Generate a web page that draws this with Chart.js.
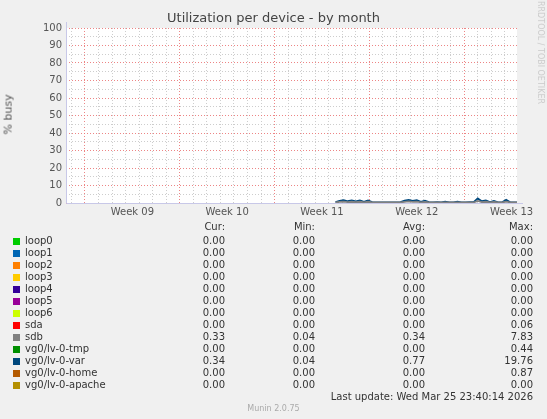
<!DOCTYPE html>
<html><head><meta charset="utf-8">
<script src="https://cdn.jsdelivr.net/npm/chart.js@4"></script>
<style>
body{margin:0;background:#f0f0f0;font-family:"DejaVu Sans",sans-serif;color:#333;width:547px;height:419px;position:relative;overflow:hidden}
#wrap{position:absolute;left:0;top:0;width:547px;height:230px}
.t{position:absolute;white-space:nowrap}
.r{text-align:right}
.sq{position:absolute;width:7px;height:7px}
</style></head><body>
<div id="wrap"><canvas id="c" width="547" height="230"></canvas></div>
<div class="t" style="left:0;width:547px;text-align:center;top:10px;font-size:13px;color:#444">Utilization per device - by month</div>
<div class="t" style="left:-12px;top:108px;font-size:11px;transform:rotate(-90deg);color:#555;font-weight:normal">% busy</div>
<div class="t" style="left:489px;top:48px;font-size:8px;color:#ccc;transform:rotate(90deg)">RRDTOOL / TOBI OETIKER</div>
<div id="leg"></div>
<div class="t" style="left:0;width:547px;text-align:center;top:404px;font-size:8px;color:#aaa">Munin 2.0.75</div>
<script>
const seriesNames=["loop0","loop1","loop2","loop3","loop4","loop5","loop6","sda","sdb","vg0/lv-0-tmp","vg0/lv-0-var","vg0/lv-0-home","vg0/lv-0-apache"];
const seriesColors=["#00CC00","#0066B3","#FF8000","#FFCC00","#330099","#990099","#CCFF00","#FF0000","#808080","#008F00","#00487D","#B35A00","#B38F00"];
const curVals=["0.00","0.00","0.00","0.00","0.00","0.00","0.00","0.00","0.33","0.00","0.34","0.00","0.00"];
const minVals=["0.00","0.00","0.00","0.00","0.00","0.00","0.00","0.00","0.04","0.00","0.04","0.00","0.00"];
const avgVals=["0.00","0.00","0.00","0.00","0.00","0.00","0.00","0.00","0.34","0.00","0.77","0.00","0.00"];
const maxVals=["0.00","0.00","0.00","0.00","0.00","0.00","0.00","0.06","7.83","0.44","19.76","0.87","0.00"];
const weekLabels=["Week 09","Week 10","Week 11","Week 12","Week 13"];
const varDays=[19.9,20.2,20.5,20.8,21.1,21.4,21.7,22.0,22.3,22.6,22.9,23.2,23.5,23.8,24.1,24.4,24.7,25.0,25.3,25.6,25.9,26.2,26.5,26.8,27.1,27.4,27.7,28.0,28.3,28.6,28.9,29.2,29.5,29.8,30.1,30.4,30.7,31.0,31.3,31.6,31.9,32.2,32.5,32.8,33.1,33.3];
const varVals=[0.5,1.2,1.6,1.0,1.5,0.9,1.4,0.6,1.5,0.5,0.4,0.4,0.4,0.4,0.4,0.4,0.5,1.4,1.8,1.2,1.6,0.7,1.3,0.5,0.4,0.5,0.4,0.8,0.4,0.4,0.7,0.4,0.4,0.5,0.5,2.6,1.0,1.4,0.5,1.2,0.4,0.4,1.8,0.4,0.4,0.4];
const sdbVals=[0.3,0.6,0.8,0.5,0.7,0.5,0.7,0.3,0.7,0.3,0.3,0.3,0.3,0.3,0.3,0.3,0.3,0.7,0.9,0.6,0.8,0.4,0.6,0.3,0.3,0.3,0.3,0.4,0.3,0.3,0.4,0.3,0.3,0.3,0.3,1.2,0.5,0.7,0.3,0.6,0.3,0.3,0.8,0.3,0.3,0.3];
const firstMonday=1.4, totalDays=33.3;

let leg=document.getElementById('leg'),h='';
const cols=[[225,"Cur:",curVals],[315,"Min:",minVals],[425,"Avg:",avgVals],[533,"Max:",maxVals]];
cols.forEach(c=>{h+=`<div class="t r" style="right:${547-c[0]}px;top:221px;font-size:10px">${c[1]}</div>`});
seriesNames.forEach((n,i)=>{const y=235+i*12;
h+=`<div class="sq" style="left:13px;top:${y+3}px;background:${seriesColors[i]}"></div><div class="t" style="left:25px;top:${y}px;font-size:10px">${n}</div>`;
cols.forEach(c=>{h+=`<div class="t r" style="right:${547-c[0]}px;top:${y}px;font-size:10px">${c[2][i]}</div>`});});
h+=`<div class="t r" style="right:14px;top:391px;font-size:10px">Last update: Wed Mar 25 23:40:14 2026</div>`;
leg.innerHTML=h;

const xt=[];
for(let d=0;d<=33;d++){const v=firstMonday-1+d; if(v>0&&v<totalDays) xt.push({value:v,kind:((d-1)%7===0)?'major':'minor'});}
weekLabels.forEach((w,i)=>xt.push({value:firstMonday+3.5+7*i,kind:'label',label:w}));
xt.sort((a,b)=>a.value-b.value);

const ds=[{data:varDays.map((d,i)=>({x:d,y:sdbVals[i]})),borderColor:seriesColors[8]},
{data:varDays.map((d,i)=>({x:d,y:varVals[i]})),borderColor:seriesColors[10]}];
new Chart(document.getElementById('c'),{type:'line',
data:{datasets:ds.map(d=>Object.assign(d,{pointRadius:0,borderWidth:1.8,tension:0}))},
options:{animation:false,responsive:false,plugins:{legend:{display:false},tooltip:{enabled:false}},
layout:{padding:{top:28,right:30,left:0,bottom:0}},
scales:{
x:{type:'linear',min:0,max:totalDays,
afterBuildTicks:s=>{s.ticks=xt.map(t=>({value:t.value}));},
afterFit:s=>{s.height=27;},
ticks:{autoSkip:false,maxRotation:0,color:'#555',font:{size:10,family:'DejaVu Sans'},padding:3,
callback:(v,i)=>xt[i].kind==='label'?xt[i].label:''},
grid:{drawTicks:false,color:c=>{const t=xt[c.index];return !t||t.kind==='label'?'rgba(0,0,0,0)':(t.kind==='major'?'rgba(235,120,120,0.9)':'rgba(200,200,200,0.9)')}},
border:{display:false,dash:[1,2]}},
y:{min:0,max:100,afterFit:s=>{s.width=66;},
ticks:{stepSize:5,autoSkip:false,color:'#555',font:{size:10,family:'DejaVu Sans'},padding:4,callback:v=>v%10===0?v:''},
grid:{drawTicks:false,color:c=>c.tick&&c.tick.value%10===0?'rgba(235,120,120,0.9)':'rgba(200,200,200,0.9)'},
border:{display:false,dash:[1,2]}}
}},
plugins:[{id:'bg',beforeDraw(ch){const a=ch.chartArea,g=ch.ctx;g.save();g.fillStyle='#fff';g.fillRect(a.left,a.top,a.right-a.left,a.bottom-a.top);g.restore();},
afterDraw(ch){const a=ch.chartArea,g=ch.ctx;g.save();g.strokeStyle='#c8c8e8';g.lineWidth=1;g.beginPath();
g.moveTo(a.left+0.5,a.top-6);g.lineTo(a.left+0.5,a.bottom+0.5);g.lineTo(a.right+6,a.bottom+0.5);g.stroke();g.restore();}}]
});
</script></body></html>
